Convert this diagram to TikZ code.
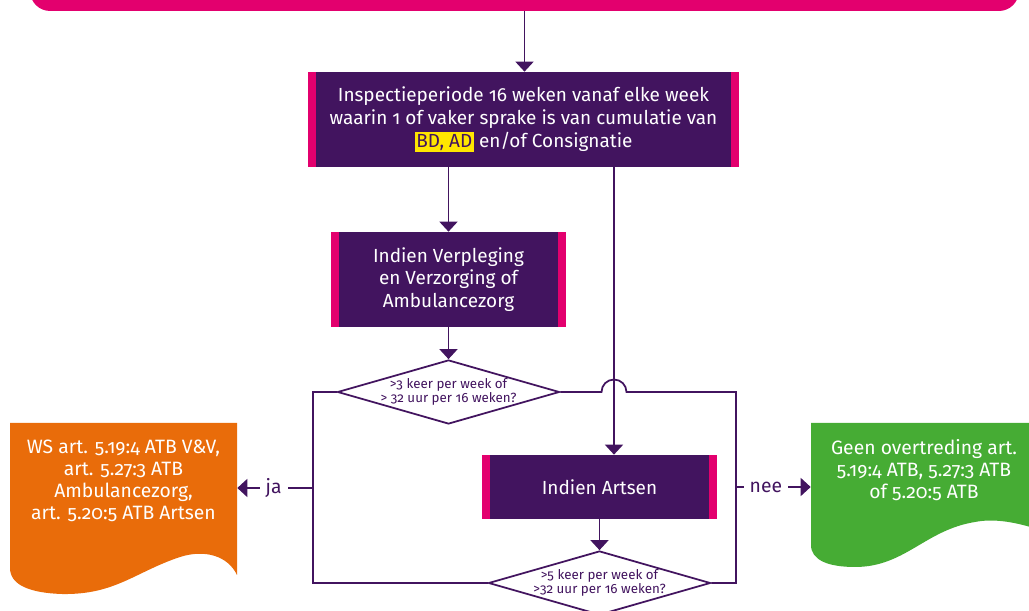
\documentclass[tikz,border=0pt]{standalone}
\usepackage{fontspec}
\setmainfont{Fira Sans}[Numbers=OldStyle]
\usetikzlibrary{calc,arrows.meta,shapes.geometric}
\definecolor{ink}{RGB}{66,20,95}
\definecolor{roze}{RGB}{227,0,110}
\definecolor{oranje}{RGB}{233,108,10}
\definecolor{groen}{RGB}{70,172,52}
\definecolor{geel}{RGB}{255,230,0}
\newcommand\markeer[1]{{\fboxsep=1pt\colorbox{geel}{\textcolor{ink}{#1}}}}
\tikzset{
  verbinding/.style={draw=ink, line width=1pt},
  flow/.style={verbinding, -{Triangle[width=0.36cm,length=0.2cm]}},
  fase/.style={fill=ink, text=white, align=center, inner sep=0pt,
    font=\fontsize{10.8}{13}\selectfont,
    path picture={
      \fill[roze] (path picture bounding box.north west) rectangle ([xshift=0.16cm]path picture bounding box.south west);
      \fill[roze] (path picture bounding box.north east) rectangle ([xshift=-0.16cm]path picture bounding box.south east);
    }},
  vraag/.style={diamond, draw=ink, line width=1pt, fill=white, aspect=3.5, inner xsep=-0.14cm, inner ysep=0pt,
    minimum width=4.44cm, minimum height=1.28cm, align=center, text=ink,
    font=\fontsize{7.6}{7}\selectfont},
  uitkomst/.style={text=white, align=center, inner sep=0pt, minimum width=4.54cm,
    font=\fontsize{11}{12.5}\selectfont},
  tag/.style={fill=white, text=ink, inner xsep=0.12cm, font=\fontsize{11}{12}\selectfont},
  topbox/.style={fill=roze, rounded corners=0.4cm, minimum width=19.78cm, minimum height=2.04cm}
}
\begin{document}
\begin{tikzpicture}[x=0.02cm,y=-0.02cm]
      \clip (0,0) rectangle (1029,611);
      \coordinate(T) at (524.5,-40);
      \coordinate(I) at (523.5,119.5);
      \coordinate(V) at (448.5,279.5);
      \coordinate(Q) at (448.5,392);
      \coordinate(A) at (599.5,487);
      \coordinate(R) at (599.5,583);
      \coordinate(D) at (614,168);
      \coordinate(L) at (313,488);
      \coordinate(N) at (736,487);
      \fill[oranje] (10,423) -- (237,423) -- (237,575) .. controls (228,556) and (205,549) .. (180,557)
        .. controls (135,572) and (115,595) .. (62,594) .. controls (30,593) and (10,585) .. (10,568) -- cycle;
      \fill[groen] (811,423) -- (1040,423) -- (1040,530) .. controls (1010,520) and (990,519) .. (975,522)
        .. controls (925,530) and (905,567) .. (855,567) .. controls (828,567) and (811,560) .. (811,545) -- cycle;
      \node[topbox] (top) at (T) {};
      \node[fase, minimum width=8.62cm, minimum height=1.9cm] (insp) at (I)
        {Inspectieperiode 16 weken vanaf elke week\\waarin 1 of vaker sprake is van cumulatie van\\\markeer{BD, AD} en/of Consignatie};
      \node[fase, minimum width=4.7cm, minimum height=1.9cm] (vv) at (V)
        {Indien Verpleging\\en Verzorging of\\Ambulancezorg};
      \node[fase, minimum width=4.7cm, minimum height=1.28cm] (arts) at (A) {Indien Artsen};
      \node[vraag] (q1) at (Q) {>3 keer per week of\\> 32 uur per 16 weken?};
      \node[vraag] (q2) at (R) {>5 keer per week of\\>32 uur per 16 weken?};
      \node[uitkomst] (ws) at (123.5,481)
        {WS art. 5.19:4 ATB V\&V,\\art. 5.27:3 ATB\\Ambulancezorg,\\art. 5.20:5 ATB Artsen};
      \node[uitkomst, minimum width=4.52cm] (gr) at (924,470)
        {Geen overtreding art.\\5.19:4 ATB, 5.27:3 ATB\\of 5.20:5 ATB};
      \draw[flow] (top.south) -- (top.south |- insp.north);
      \draw[flow] (insp.south -| vv.north) -- (vv.north);
      \draw[flow] (vv.south) -- (q1.north);
      \draw[flow] (insp.south -| D) -- (D |- arts.north);
      \draw[flow] (arts.south) -- (q2.north);
      \draw[verbinding] (q1.west) -- (q1.west -| L) -- (L |- q2.west) -- (q2.west);
      \draw[verbinding] (q1.east) -- ($(q1.east -| D)+(-12.5,0)$) arc[start angle=180,end angle=0,radius=0.25cm]
        -- (q1.east -| N) -- (N |- q2.east) -- (q2.east);
      \draw[flow] (L) -- node[tag,pos=0.52]{ja} (L -| ws.east);
      \draw[flow] (N) -- node[tag,pos=0.4]{nee} (N -| gr.west);
    \end{tikzpicture}
\end{document}
